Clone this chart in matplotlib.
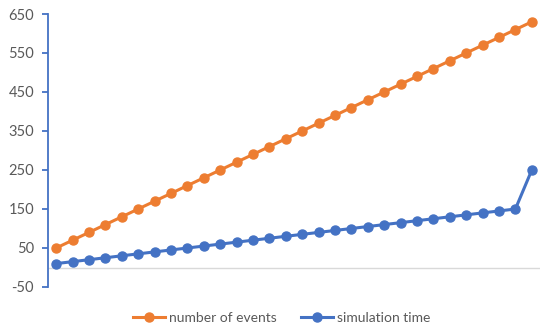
import matplotlib
matplotlib.use("Agg")
import matplotlib.pyplot as plt

categories = list(range(1, 31))
number_of_events = [50, 70, 90, 110, 130, 150, 170, 190, 210, 230, 250, 270, 290, 310, 330,
                    350, 370, 390, 410, 430, 450, 470, 490, 510, 530, 550, 570, 590, 610, 630]
simulation_time = [10, 15, 20, 25, 30, 35, 40, 45, 50, 55, 60, 65, 70, 75, 80,
                   85, 90, 95, 100, 105, 110, 115, 120, 125, 130, 135, 140, 145, 150, 250]
yticks = [-50, 50, 150, 250, 350, 450, 550, 650]

plt.rcParams['font.family'] = ['Lato', 'DejaVu Sans']
plt.rcParams['axes.unicode_minus'] = False

fig = plt.figure(figsize=(5.5, 3.34), dpi=100)
ax = fig.add_axes([48/550, 1-287/334, (540-48)/550, (287-14)/334])

orange = '#ED7D31'
blue = '#4472C4'
x = list(range(len(categories)))
ax.plot(x, number_of_events, color=orange, lw=2.2, marker='o', ms=6.5, label='number of events', zorder=3)
ax.plot(x, simulation_time, color=blue, lw=2.2, marker='o', ms=6.5, label='simulation time', zorder=3)

ax.set_xlim(-0.5, len(categories) - 0.5)
ax.set_ylim(-50, 650)
ax.set_yticks(yticks)
ax.set_xticks([])
ax.axhline(0, color='#D9D9D9', lw=1, zorder=1)

for s in ['top', 'right', 'bottom']:
    ax.spines[s].set_visible(False)
ax.spines['left'].set_color(blue)
ax.spines['left'].set_linewidth(1.3)
ax.tick_params(axis='y', colors=blue, labelcolor='#595959', labelsize=10.5, length=4, width=1.3, pad=6)

fig.legend(loc='center', bbox_to_anchor=(0.512, 1-318/334), ncol=2, frameon=False,
           fontsize=10, labelcolor='#595959', handlelength=2.3, columnspacing=1.7, handletextpad=0.3)

fig.savefig('out.png', dpi=100)
